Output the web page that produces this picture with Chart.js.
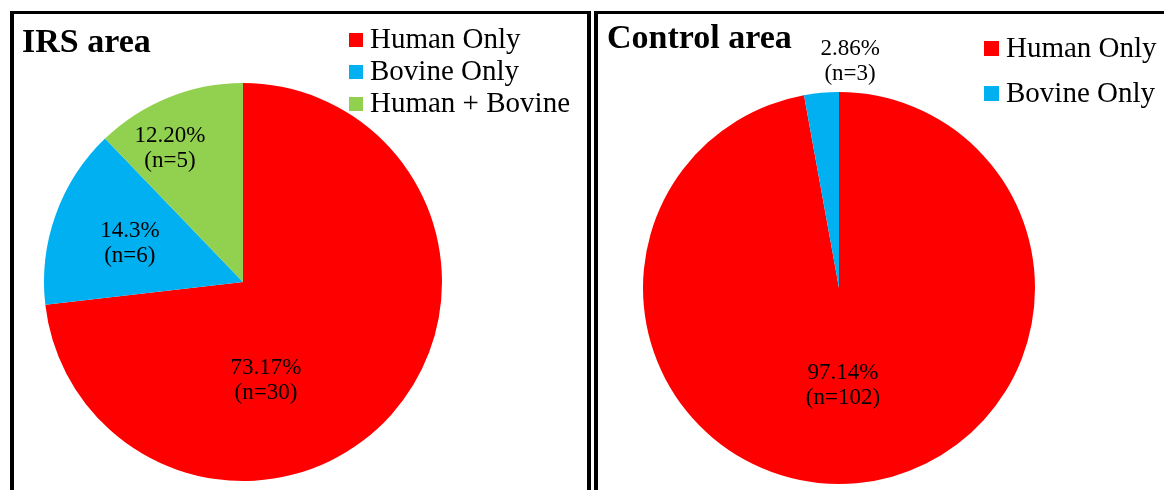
<!DOCTYPE html>
<html>
<head>
<meta charset="utf-8">
<script src="https://cdn.jsdelivr.net/npm/chart.js@4/dist/chart.umd.min.js"></script>
<style>
  html, body { margin: 0; padding: 0; background: #fff; overflow: hidden; }
  body { width: 1164px; height: 490px; position: relative; }
  .panel { position: absolute; box-sizing: border-box; border: 0 solid #000; height: 520px; }
  #panel-irs { left: 10px; top: 11px; width: 581px; border-left-width: 4px; border-top-width: 3px; border-right-width: 4px; }
  #panel-control { left: 594px; top: 11px; width: 620px; border-left-width: 4px; border-top-width: 3px; }
  canvas { position: absolute; top: 0; }
  #chart-irs { left: 0; }
  #chart-control { left: 595px; }
</style>
</head>
<body>
<div class="panel" id="panel-irs"></div>
<div class="panel" id="panel-control"></div>
<canvas id="chart-irs" width="590" height="490"></canvas>
<canvas id="chart-control" width="569" height="490"></canvas>
<script>
const SERIF = '"Liberation Serif", "Times New Roman", serif';

// IRS area
const irsLabels = ['Human Only', 'Bovine Only', 'Human + Bovine'];
const irsCounts = [30, 6, 5];
const irsPctText = ['73.17%', '14.3%', '12.20%'];
const irsColors = ['#FF0000', '#00B0F0', '#92D050'];

// Control area
const controlLabels = ['Human Only', 'Bovine Only'];
const controlCounts = [102, 3];
const controlPctText = ['97.14%', '2.86%'];
const controlColors = ['#FF0000', '#00B0F0'];

// slice labels, panel title and legend, all drawn on the chart canvas
const pieText = {
  id: 'pieText',
  afterDatasetsDraw(chart, args, opts) {
    const ctx = chart.ctx;
    const meta = chart.getDatasetMeta(0);
    const ds = chart.data.datasets[0];
    ctx.save();
    ctx.fillStyle = '#000';

    ctx.textAlign = 'center';
    ctx.textBaseline = 'middle';
    ctx.font = `${opts.labelSize}px ${SERIF}`;
    meta.data.forEach((arc, i) => {
      const [deg, frac] = opts.labelPos[i];
      const a = (deg - 90) * Math.PI / 180;
      const r = arc.outerRadius * frac;
      const x = arc.x + r * Math.cos(a);
      const y = arc.y + r * Math.sin(a);
      ctx.fillText(opts.pct[i], x, y - opts.lineGap / 2);
      ctx.fillText(`(n=${ds.data[i]})`, x, y + opts.lineGap / 2);
    });

    ctx.textAlign = 'left';
    ctx.textBaseline = 'alphabetic';
    ctx.font = `bold 34px ${SERIF}`;
    ctx.fillText(opts.title, opts.titleX, opts.titleY);

    const lg = opts.legend;
    ctx.font = `${lg.size}px ${SERIF}`;
    chart.data.labels.forEach((label, i) => {
      const base = lg.y + i * lg.step;
      ctx.fillStyle = ds.backgroundColor[i];
      ctx.fillRect(lg.x, base - lg.box - 1, lg.box, lg.box);
      ctx.fillStyle = '#000';
      ctx.fillText(label, lg.x + lg.box + 7, base);
    });
    ctx.restore();
  }
};

function makePie(id, labels, counts, colors, padding, text) {
  return new Chart(document.getElementById(id), {
    type: 'pie',
    data: {
      labels,
      datasets: [{ data: counts, backgroundColor: colors, borderWidth: 0 }]
    },
    options: {
      responsive: false,
      animation: false,
      layout: { padding },
      plugins: {
        legend: { display: false },
        tooltip: { enabled: false },
        pieText: text
      }
    },
    plugins: [pieText]
  });
}

makePie('chart-irs', irsLabels, irsCounts, irsColors,
  { left: 44, top: 83, right: 148, bottom: 9 },
  {
    title: 'IRS area', titleX: 22, titleY: 52,
    pct: irsPctText, labelSize: 23, lineGap: 25,
    labelPos: [[166.8, 0.506], [288.6, 0.6], [331.4, 0.767]],
    legend: { x: 349, y: 48, step: 32, box: 14, size: 29 }
  });

makePie('chart-control', controlLabels, controlCounts, controlColors,
  { left: 48, top: 92, right: 129, bottom: 6 },
  {
    title: 'Control area', titleX: 12, titleY: 48,
    pct: controlPctText, labelSize: 23, lineGap: 25,
    labelPos: [[177.7, 0.5], [2.8, 1.158]],
    legend: { x: 389, y: 57, step: 45, box: 15, size: 29 }
  });
</script>
</body>
</html>
